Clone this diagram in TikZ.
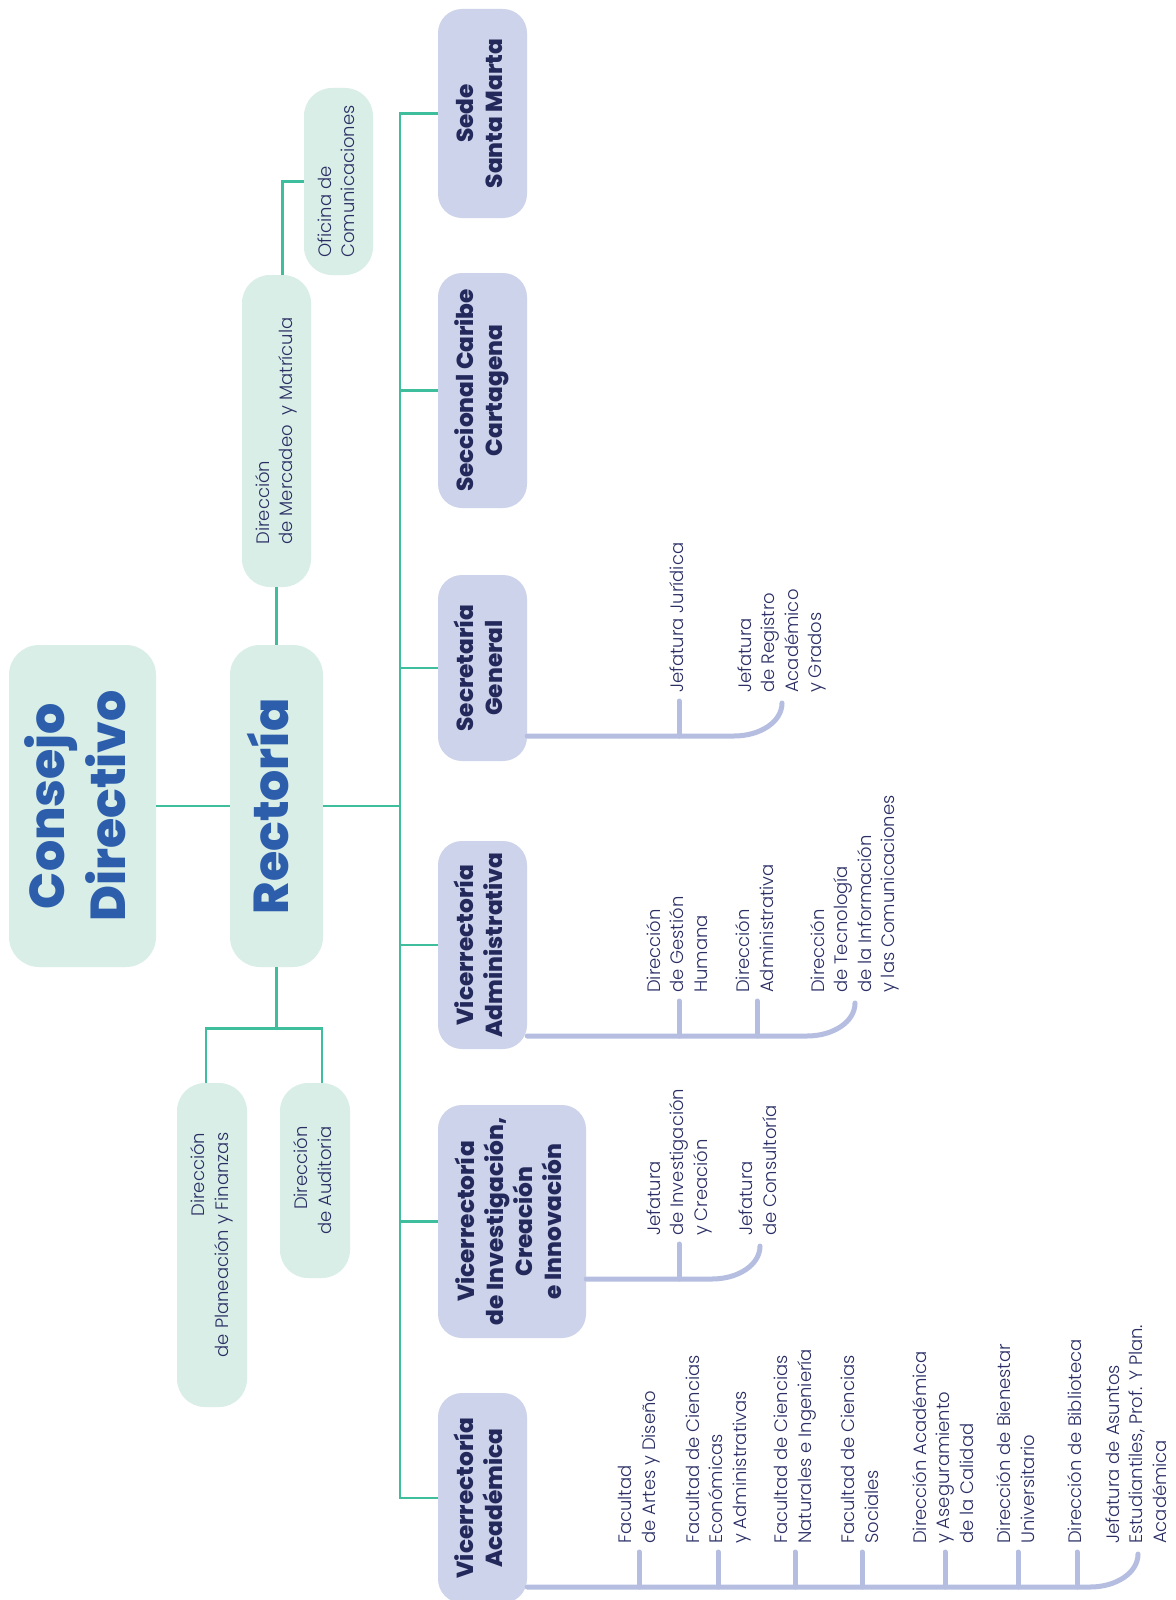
\documentclass[tikz,border=0pt]{standalone}
\usepackage{fontspec}
\usepackage{graphicx}
\usetikzlibrary{calc}
\setmainfont{Poppins}
\IfFontExistsTF{Poppins Light}{\newfontfamily\lightface{Poppins Light}}{\newfontfamily\lightface{Poppins}}
\IfFontExistsTF{Poppins ExtraBold}{\newfontfamily\heavyface{Poppins ExtraBold}}{\newcommand\heavyface{\bfseries}}

\definecolor{mint}{RGB}{217,238,230}
\definecolor{lav}{RGB}{205,211,234}
\definecolor{stem}{RGB}{63,190,158}
\definecolor{busc}{RGB}{181,190,224}
\definecolor{royal}{RGB}{44,94,172}
\definecolor{ink}{RGB}{36,41,92}
\definecolor{inklight}{RGB}{42,46,100}

% rotated multi-line text; #1 = column alignment
\newcommand\vtext[2]{\rotatebox{90}{\begin{tabular}{@{}#1@{}}#2\end{tabular}}}
\newcommand\bigtxt{\heavyface\fontsize{49}{61}\selectfont}
\newcommand\boxtxt{\heavyface\fontsize{23.2}{29}\selectfont}
\newcommand\thintxt{\lightface\fontsize{18}{23.5}\selectfont}

% bus from a start coordinate to a label node, ending in a curve that turns up
\newcommand\busline[2]{%
  \draw[sub] (#1) -- ($(#1 -| #2.south)+(-48,0)$)
    .. controls ($(#1 -| #2.south)+(-22,0)$) and ($(#1 -| #2.south)+(0,-14)$)
    .. ($(#1 -| #2.south)+(0,-33)$);}
% short vertical tick from the bus up to a label node
\newcommand\subtick[2]{\draw[sub] ($(#1.south)+(0,8)$) -- (#1.south |- #2);}

\begin{document}
\begin{tikzpicture}[x=1pt,y=-1pt,
  gbox/.style={fill=mint, rounded corners=28pt, inner sep=0pt, text=inklight, font=\thintxt},
  bigbox/.style={gbox, rounded corners=30pt, text=royal, font=\bigtxt},
  lbox/.style={fill=lav, rounded corners=24pt, inner sep=0pt, text=ink, font=\boxtxt},
  lab/.style={anchor=south, inner sep=0pt, text=inklight, font=\thintxt},
  conn/.style={draw=stem, line width=2.6pt},
  sub/.style={draw=busc, line width=5pt, line cap=round}]

\useasboundingbox[fill=white] (0,0) rectangle (1175,1600);

% governing bodies
\node[bigbox, minimum width=147pt, minimum height=322pt] (cd) at (82.5,806) {\vtext{c}{Consejo\\Directivo}};
\node[bigbox, minimum width=93pt, minimum height=322pt] (rec) at (276.5,806) {\vtext{c}{Rectoría}};

% offices attached to the rector
\node[gbox, minimum width=69pt, minimum height=312pt] (mer) at (276.5,431) {\vtext{l}{Dirección\\de Mercadeo\ \ y Matrícula}};
\node[gbox, minimum width=69pt, minimum height=187pt] (ofi) at (338.5,181.5) {\vtext{l}{Oficina de\\Comunicaciones}};
\node[gbox, minimum width=70pt, minimum height=324pt] (pla) at (212,1245) {\vtext{r}{Dirección\\de Planeación y Finanzas}};
\node[gbox, minimum width=70pt, minimum height=195pt] (aud) at (315,1180.5) {\vtext{r}{Dirección\\de Auditoria}};

% main units
\node[lbox, minimum width=89pt, minimum height=209pt] (sm) at (482.5,113.5) {\vtext{c}{Sede\\Santa Marta}};
\node[lbox, minimum width=89pt, minimum height=235pt] (ct) at (482.5,390.5) {\vtext{c}{Seccional Caribe\\Cartagena}};
\node[lbox, minimum width=89pt, minimum height=186pt] (sg) at (482.5,668) {\vtext{c}{Secretaría\\General}};
\node[lbox, minimum width=89pt, minimum height=208pt] (va) at (482.5,945) {\vtext{c}{Vicerrectoría\\Administrativa}};
\node[lbox, minimum width=148pt, minimum height=233pt] (vi) at (512,1221.5) {\vtext{c}{Vicerrectoría\\de Investigación,\\Creación\\e Innovación}};
\node[lbox, minimum width=89pt, minimum height=210pt] (vac) at (482.5,1498) {\vtext{c}{Vicerrectoría\\Académica}};

% green connectors
\coordinate (hub) at (400,806);
\draw[conn] (cd.east) -- (rec.west);
\draw[conn] (rec.east) -- (hub);
\draw[conn] (sm.west) -| (hub);
\draw[conn] (vac.west) -| (hub);
\foreach \n in {ct,sg,va,vi} \draw[conn] (\n.west) -- (\n.west -| hub);
\draw[conn] (rec.north) -- (mer.south);
\draw[conn] ($(mer.north)+(6,0)$) |- (ofi.west);
\coordinate (fork) at ($(rec.south)+(0,61)$);
\draw[conn] (rec.south) -- (fork);
\draw[conn] ($(pla.north)+(-6,0)$) |- (fork) -| ($(aud.north)+(7,0)$);

% Secretaría General
\node[lab] (sg1) at (679,693) {\vtext{l}{Jefatura Jurídica}};
\node[lab] (sg2) at (782,693) {\vtext{l}{Jefatura\\de Registro\\Académico\\y Grados}};
\coordinate (sgb) at ($(sg.east)+(0,68)$);
\busline{sgb}{sg2}
\subtick{sg1}{sgb}

% Vicerrectoría Administrativa
\node[lab] (va1) at (679,993) {\vtext{l}{Dirección\\de Gestión\\Humana}};
\node[lab] (va2) at (757,993) {\vtext{l}{Dirección\\Administrativa}};
\node[lab] (va3) at (855,993) {\vtext{l}{Dirección\\de Tecnología\\de la Información\\y las Comunicaciones}};
\coordinate (vab) at ($(va.east)+(0,91)$);
\busline{vab}{va3}
\subtick{va1}{vab}
\subtick{va2}{vab}

% Vicerrectoría de Investigación
\node[lab] (vi1) at (679,1236) {\vtext{l}{Jefatura\\de Investigación\\y Creación}};
\node[lab] (vi2) at (760,1236) {\vtext{l}{Jefatura\\de Consultoría}};
\coordinate (vib) at ($(vi.east)+(0,57.5)$);
\busline{vib}{vi2}
\subtick{vi1}{vib}

% Vicerrectoría Académica
\node[lab] (ac1) at (639,1544) {\vtext{l}{Facultad\\de Artes y Diseño}};
\node[lab] (ac2) at (718,1544) {\vtext{l}{Facultad de Ciencias\\Económicas\\y Administrativas}};
\node[lab] (ac3) at (795,1544) {\vtext{l}{Facultad de Ciencias\\Naturales e Ingeniería}};
\node[lab] (ac4) at (862,1544) {\vtext{l}{Facultad de Ciencias\\Sociales}};
\node[lab] (ac5) at (945,1544) {\vtext{l}{Dirección Académica\\y Aseguramiento\\de la Calidad}};
\node[lab] (ac6) at (1018,1544) {\vtext{l}{Dirección de Bienestar\\Universitario}};
\node[lab] (ac7) at (1077,1544) {\vtext{l}{Dirección de Biblioteca}};
\node[lab] (ac8) at (1138,1544) {\vtext{l}{Jefatura de Asuntos\\Estudiantiles, Prof. Y Plan.\\Académica}};
\coordinate (acb) at ($(vac.east)+(0,89)$);
\busline{acb}{ac8}
\foreach \k in {ac1,ac2,ac3,ac4,ac5,ac6,ac7} {\subtick{\k}{acb}}
\end{tikzpicture}
\end{document}
